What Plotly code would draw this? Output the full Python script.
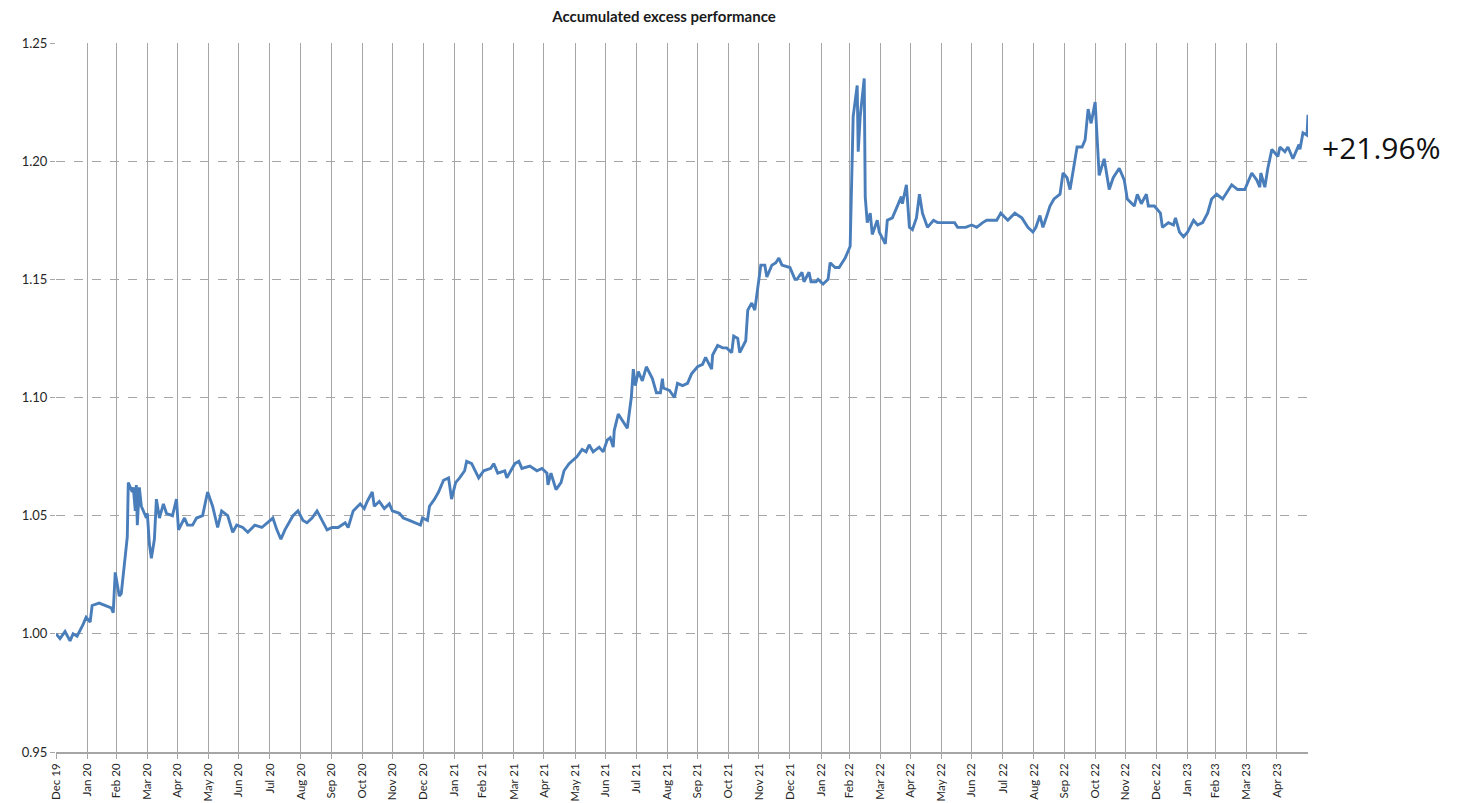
import plotly.graph_objects as go

# ---- data ----
dates = [
    "2019-12-31", "2020-01-04", "2020-01-09", "2020-01-14", "2020-01-17", "2020-01-21", "2020-01-27",
    "2020-01-30", "2020-02-03", "2020-02-05", "2020-02-12", "2020-02-19", "2020-02-24", "2020-02-26",
    "2020-02-28", "2020-03-03", "2020-03-05", "2020-03-09", "2020-03-11", "2020-03-12", "2020-03-16",
    "2020-03-17", "2020-03-19", "2020-03-20", "2020-03-21", "2020-03-23", "2020-03-25", "2020-03-28",
    "2020-03-30", "2020-03-31", "2020-04-02", "2020-04-04", "2020-04-07", "2020-04-09", "2020-04-12",
    "2020-04-16", "2020-04-19", "2020-04-25", "2020-04-29", "2020-05-01", "2020-05-07", "2020-05-10",
    "2020-05-15", "2020-05-19", "2020-05-25", "2020-05-30", "2020-06-04", "2020-06-09", "2020-06-13",
    "2020-06-19", "2020-06-24", "2020-06-28", "2020-07-04", "2020-07-09", "2020-07-16", "2020-07-23",
    "2020-07-31", "2020-08-03", "2020-08-07", "2020-08-11", "2020-08-15", "2020-08-23", "2020-08-28",
    "2020-09-02", "2020-09-06", "2020-09-11", "2020-09-16", "2020-09-21", "2020-09-26", "2020-10-01",
    "2020-10-07", "2020-10-14", "2020-10-17", "2020-10-22", "2020-10-29", "2020-11-02", "2020-11-05",
    "2020-11-10", "2020-11-12", "2020-11-17", "2020-11-22", "2020-11-27", "2020-11-30", "2020-12-07",
    "2020-12-11", "2020-12-17", "2020-12-22", "2020-12-28", "2020-12-30", "2021-01-04", "2021-01-06",
    "2021-01-11", "2021-01-15", "2021-01-20", "2021-01-25", "2021-01-28", "2021-02-01", "2021-02-05",
    "2021-02-10", "2021-02-12", "2021-02-17", "2021-02-24", "2021-03-01", "2021-03-08", "2021-03-11",
    "2021-03-15", "2021-03-22", "2021-03-24", "2021-04-01", "2021-04-05", "2021-04-08", "2021-04-16",
    "2021-04-23", "2021-04-28", "2021-05-03", "2021-05-04", "2021-05-07", "2021-05-12", "2021-05-17",
    "2021-05-20", "2021-05-25", "2021-06-02", "2021-06-07", "2021-06-11", "2021-06-14", "2021-06-18",
    "2021-06-24", "2021-06-28", "2021-07-02", "2021-07-05", "2021-07-08", "2021-07-09", "2021-07-13",
    "2021-07-19", "2021-07-22", "2021-07-26", "2021-07-28", "2021-07-30", "2021-08-02", "2021-08-06",
    "2021-08-10", "2021-08-16", "2021-08-20", "2021-08-24", "2021-08-26", "2021-08-27", "2021-09-02",
    "2021-09-07", "2021-09-10", "2021-09-15", "2021-09-20", "2021-09-24", "2021-09-30", "2021-10-05",
    "2021-10-08", "2021-10-14", "2021-10-15", "2021-10-20", "2021-10-25", "2021-10-29", "2021-11-03",
    "2021-11-05", "2021-11-09", "2021-11-11", "2021-11-17", "2021-11-19", "2021-11-23", "2021-11-26",
    "2021-11-29", "2021-12-02", "2021-12-06", "2021-12-08", "2021-12-13", "2021-12-17", "2021-12-20",
    "2021-12-23", "2021-12-31", "2022-01-05", "2022-01-07", "2022-01-12", "2022-01-14", "2022-01-19",
    "2022-01-21", "2022-01-26", "2022-01-28", "2022-02-02", "2022-02-07", "2022-02-09", "2022-02-14",
    "2022-02-18", "2022-02-21", "2022-02-24", "2022-03-01", "2022-03-02", "2022-03-04", "2022-03-08",
    "2022-03-09", "2022-03-11", "2022-03-15", "2022-03-16", "2022-03-18", "2022-03-21", "2022-03-23",
    "2022-03-28", "2022-03-30", "2022-04-05", "2022-04-07", "2022-04-12", "2022-04-14", "2022-04-21",
    "2022-04-22", "2022-04-26", "2022-04-29", "2022-05-02", "2022-05-06", "2022-05-09", "2022-05-12",
    "2022-05-17", "2022-05-23", "2022-05-27", "2022-06-01", "2022-06-08", "2022-06-13", "2022-06-16",
    "2022-06-24", "2022-06-30", "2022-07-05", "2022-07-11", "2022-07-15", "2022-07-25", "2022-07-29",
    "2022-08-05", "2022-08-12", "2022-08-19", "2022-08-25", "2022-08-30", "2022-09-02", "2022-09-06",
    "2022-09-09", "2022-09-13", "2022-09-16", "2022-09-20", "2022-09-26", "2022-09-29", "2022-10-03",
    "2022-10-06", "2022-10-13", "2022-10-18", "2022-10-21", "2022-10-24", "2022-10-27", "2022-10-31",
    "2022-11-02", "2022-11-04", "2022-11-09", "2022-11-14", "2022-11-18", "2022-11-24", "2022-11-29",
    "2022-12-02", "2022-12-09", "2022-12-12", "2022-12-16", "2022-12-21", "2022-12-23", "2022-12-29",
    "2023-01-04", "2023-01-06", "2023-01-12", "2023-01-17", "2023-01-19", "2023-01-23", "2023-01-27",
    "2023-01-31", "2023-02-06", "2023-02-10", "2023-02-15", "2023-02-20", "2023-02-24", "2023-03-01",
    "2023-03-07", "2023-03-16", "2023-03-22", "2023-03-29", "2023-04-05", "2023-04-10", "2023-04-13",
    "2023-04-14", "2023-04-18", "2023-04-21", "2023-04-25", "2023-05-01", "2023-05-03", "2023-05-08",
    "2023-05-11", "2023-05-16", "2023-05-22", "2023-05-23", "2023-05-26", "2023-05-30", "2023-05-31",
]

values = [
    1.000, 0.998, 1.001, 0.997, 1.000, 0.999, 1.004,
    1.007, 1.005, 1.012, 1.013, 1.012, 1.011, 1.009,
    1.026, 1.016, 1.017, 1.033, 1.041, 1.064, 1.060,
    1.062, 1.052, 1.063, 1.046, 1.062, 1.054, 1.051,
    1.049, 1.051, 1.038, 1.032, 1.040, 1.057, 1.049,
    1.055, 1.051, 1.050, 1.057, 1.044, 1.049, 1.046,
    1.046, 1.049, 1.050, 1.060, 1.054, 1.045, 1.052,
    1.050, 1.043, 1.046, 1.045, 1.043, 1.046, 1.045,
    1.048, 1.049, 1.044, 1.040, 1.044, 1.050, 1.052,
    1.048, 1.047, 1.049, 1.052, 1.048, 1.044, 1.045,
    1.045, 1.047, 1.045, 1.052, 1.055, 1.053, 1.056,
    1.060, 1.054, 1.056, 1.053, 1.055, 1.052, 1.051,
    1.049, 1.048, 1.047, 1.046, 1.049, 1.048, 1.054,
    1.057, 1.060, 1.065, 1.066, 1.057, 1.064, 1.066,
    1.069, 1.073, 1.072, 1.066, 1.069, 1.070, 1.072,
    1.068, 1.069, 1.066, 1.072, 1.073, 1.070, 1.071,
    1.069, 1.070, 1.068, 1.063, 1.068, 1.061, 1.064,
    1.069, 1.072, 1.075, 1.078, 1.077, 1.080, 1.077,
    1.079, 1.077, 1.082, 1.083, 1.079, 1.086, 1.093,
    1.089, 1.087, 1.100, 1.112, 1.105, 1.111, 1.107,
    1.113, 1.108, 1.102, 1.102, 1.108, 1.104, 1.103,
    1.100, 1.106, 1.105, 1.106, 1.110, 1.113, 1.114,
    1.117, 1.112, 1.118, 1.122, 1.121, 1.121, 1.119,
    1.126, 1.125, 1.119, 1.124, 1.137, 1.140, 1.137,
    1.147, 1.156, 1.156, 1.151, 1.156, 1.157, 1.159,
    1.156, 1.155, 1.150, 1.150, 1.153, 1.149, 1.153,
    1.149, 1.149, 1.150, 1.148, 1.150, 1.157, 1.155,
    1.155, 1.157, 1.159, 1.164, 1.182, 1.219, 1.232,
    1.204, 1.219, 1.235, 1.185, 1.174, 1.178, 1.169,
    1.175, 1.170, 1.165, 1.175, 1.176, 1.178, 1.185,
    1.182, 1.190, 1.172, 1.171, 1.176, 1.186, 1.178,
    1.172, 1.175, 1.174, 1.174, 1.174, 1.174, 1.172,
    1.172, 1.173, 1.172, 1.174, 1.175, 1.175, 1.178,
    1.175, 1.178, 1.176, 1.172, 1.170, 1.172, 1.177,
    1.172, 1.177, 1.181, 1.184, 1.186, 1.195, 1.193,
    1.188, 1.206, 1.206, 1.209, 1.222, 1.216, 1.225,
    1.209, 1.194, 1.201, 1.188, 1.193, 1.197, 1.192,
    1.184, 1.181, 1.186, 1.182, 1.186, 1.181, 1.181,
    1.178, 1.172, 1.174, 1.173, 1.176, 1.170, 1.168,
    1.170, 1.175, 1.173, 1.174, 1.178, 1.184, 1.186,
    1.184, 1.190, 1.188, 1.188, 1.195, 1.192, 1.189,
    1.195, 1.189, 1.197, 1.205, 1.202, 1.206, 1.204,
    1.206, 1.201, 1.207, 1.205, 1.212, 1.211, 1.2196,
]

tick_dates = [
    "2019-12-31", "2020-01-31", "2020-02-29", "2020-03-31", "2020-04-30", "2020-05-31",
    "2020-06-30", "2020-07-31", "2020-08-31", "2020-09-30", "2020-10-31", "2020-11-30",
    "2020-12-31", "2021-01-31", "2021-02-28", "2021-03-31", "2021-04-30", "2021-05-31",
    "2021-06-30", "2021-07-31", "2021-08-31", "2021-09-30", "2021-10-31", "2021-11-30",
    "2021-12-31", "2022-01-31", "2022-02-28", "2022-03-31", "2022-04-30", "2022-05-31",
    "2022-06-30", "2022-07-31", "2022-08-31", "2022-09-30", "2022-10-31", "2022-11-30",
    "2022-12-31", "2023-01-31", "2023-02-28", "2023-03-31", "2023-04-30",
]
tick_labels = [
    "Dec 19", "Jan 20", "Feb 20", "Mar 20", "Apr 20", "May 20", "Jun 20", "Jul 20",
    "Aug 20", "Sep 20", "Oct 20", "Nov 20", "Dec 20", "Jan 21", "Feb 21", "Mar 21",
    "Apr 21", "May 21", "Jun 21", "Jul 21", "Aug 21", "Sep 21", "Oct 21", "Nov 21",
    "Dec 21", "Jan 22", "Feb 22", "Mar 22", "Apr 22", "May 22", "Jun 22", "Jul 22",
    "Aug 22", "Sep 22", "Oct 22", "Nov 22", "Dec 22", "Jan 23", "Feb 23", "Mar 23",
    "Apr 23",
]
y_ticks = [0.95, 1.00, 1.05, 1.10, 1.15, 1.20, 1.25]
end_label = "+21.96%"
title_text = "Accumulated excess performance"

GRID = "#a6a6a6"
LINE = "#4a7ebb"

# page body keeps an 8px margin, so the figure is sized to fit the window
W, H = 1462, 795
ML, MT, MR, MB = 48, 35, 162, 51
PW, PH = W - ML - MR, H - MT - MB

fig = go.Figure()
fig.add_trace(go.Scatter(
    x=dates, y=values, mode="lines",
    line=dict(color=LINE, width=2.9),
    showlegend=False, hoverinfo="x+y",
))

fig.update_layout(
    width=W, height=H,
    margin=dict(l=ML, r=MR, t=MT, b=MB),
    paper_bgcolor="white", plot_bgcolor="white",
    title=dict(text="<b>" + title_text + "</b>", x=(664 - 56) / PW, xref="paper",
               xanchor="center", y=1 - 3 / H, yref="container", yanchor="top",
               pad=dict(t=0, b=0), automargin=False,
               font=dict(family="Lato", size=15, color="#1a1a1a")),
    font=dict(family="Lato", color="#262626"),
)

fig.update_xaxes(
    type="date", range=["2019-12-31", "2023-05-31"], automargin=False,
    tickmode="array", tickvals=tick_dates, ticktext=tick_labels,
    tickangle=-90, tickfont=dict(size=11.5, family="Lato", color="#262626"),
    showgrid=True, gridcolor=GRID, gridwidth=1.4,
    showline=True, linecolor=GRID, linewidth=1.6,
    ticks="outside", ticklen=5, tickcolor=GRID, tickwidth=1.4,
    zeroline=False,
)
fig.update_yaxes(
    range=[0.95, 1.25], tickmode="array", tickvals=y_ticks, automargin=False,
    ticktext=[f"{v:.2f}" for v in y_ticks],
    tickfont=dict(size=13, family="Lato", color="#262626"),
    showgrid=True, gridcolor=GRID, gridwidth=1.2, griddash="dash",
    showline=False, ticks="outside", ticklen=5, tickcolor=GRID,
    zeroline=False,
)

fig.add_annotation(
    text=end_label, xref="paper", yref="paper",
    x=(1320 - 56) / PW, y=(752 - 147) / PH,
    xanchor="left", yanchor="middle", showarrow=False,
    font=dict(family="Open Sans", size=30, color="#111111"),
)

fig.write_html("out.html")
